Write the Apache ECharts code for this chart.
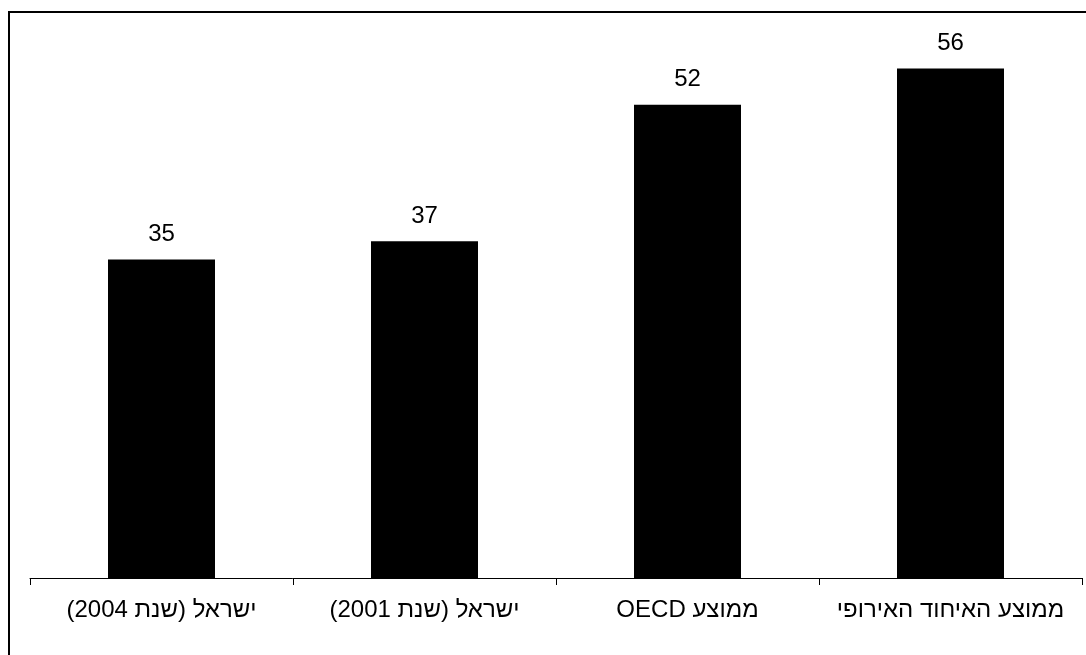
<!DOCTYPE html>
<html>
<head>
<meta charset="utf-8">
<script src="https://cdn.jsdelivr.net/npm/echarts@6/dist/echarts.min.js"></script>
<style>
  html, body { margin: 0; padding: 0; background: #fff; }
  #chart { width: 1086px; height: 655px; }
</style>
</head>
<body>
<div id="chart" dir="rtl"></div>
<script>
// Categories (left to right) and their values
const categories = ['ישראל (שנת 2004)', 'ישראל (שנת 2001)', 'ממוצע OECD', 'ממוצע האיחוד האירופי'];
const values = [35, 37, 52, 56];

const FONT = '"Liberation Sans", Arial, sans-serif';

const chart = echarts.init(document.getElementById('chart'), null, { renderer: 'canvas' });

chart.setOption({
  animation: false,
  backgroundColor: '#ffffff',
  grid: { left: 30, right: 4, top: 32, bottom: 77, containLabel: false },
  xAxis: {
    type: 'category',
    data: categories,
    axisLine: { show: true, lineStyle: { color: '#000', width: 1 } },
    axisTick: { show: true, interval: 0, length: 7, lineStyle: { color: '#000', width: 1 } },
    axisLabel: { interval: 0, hideOverlap: false, color: '#000', fontSize: 24, fontFamily: FONT, margin: 20 }
  },
  yAxis: {
    type: 'value',
    min: 0,
    max: 60,
    show: false,
    splitLine: { show: false }
  },
  series: [{
    type: 'bar',
    data: values,
    barWidth: 107,
    itemStyle: { color: '#000' },
    label: {
      show: true,
      position: 'top',
      distance: 13,
      color: '#000',
      fontSize: 24,
      fontFamily: FONT
    }
  }],
  graphic: [
    { type: 'line', shape: { x1: 9, y1: 12, x2: 9, y2: 655 }, style: { stroke: '#000', lineWidth: 2 } },
    { type: 'line', shape: { x1: 8, y1: 12, x2: 1086, y2: 12 }, style: { stroke: '#000', lineWidth: 2 } }
  ]
});
</script>
</body>
</html>
